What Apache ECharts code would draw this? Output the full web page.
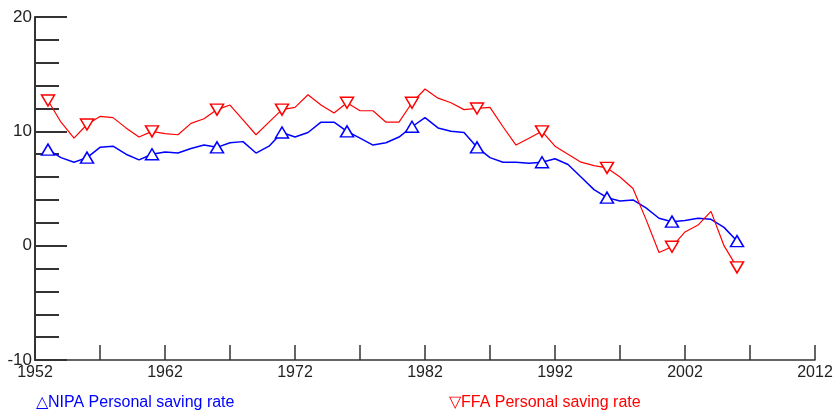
<!DOCTYPE html>
<html>
<head>
<meta charset="utf-8">
<script src="https://cdn.jsdelivr.net/npm/echarts@6/dist/echarts.min.js"></script>
<style>html,body{margin:0;padding:0;background:#fff}#c{width:837px;height:410px}</style>
</head>
<body>
<div id="c"></div>
<script>
const years = [1953,1954,1955,1956,1957,1958,1959,1960,1961,1962,1963,1964,1965,1966,1967,1968,1969,1970,1971,1972,1973,1974,1975,1976,1977,1978,1979,1980,1981,1982,1983,1984,1985,1986,1987,1988,1989,1990,1991,1992,1993,1994,1995,1996,1997,1998,1999,2000,2001,2002,2003,2004,2005,2006];
const nipa = [8.4,7.7,7.3,7.7,8.6,8.7,8.0,7.5,8.0,8.2,8.1,8.5,8.8,8.6,9.0,9.1,8.1,8.7,9.9,9.5,9.9,10.8,10.8,10.0,9.4,8.8,9.0,9.5,10.4,11.2,10.3,10.0,9.9,8.6,7.7,7.3,7.3,7.2,7.3,7.6,7.1,6.0,4.9,4.2,3.9,4.0,3.3,2.4,2.1,2.2,2.4,2.3,1.6,0.4];
const ffa = [12.7,10.8,9.4,10.6,11.3,11.2,10.3,9.5,10.0,9.8,9.7,10.7,11.1,11.9,12.3,11.0,9.7,10.8,11.9,12.1,13.2,12.3,11.6,12.5,11.8,11.8,10.8,10.8,12.5,13.7,12.9,12.5,11.9,12.0,12.1,10.4,8.8,9.4,10.0,8.7,8.0,7.3,7.0,6.8,6.0,5.0,2.3,-0.6,-0.1,1.2,1.8,3.0,0.0,-1.9];
const markerYears = [1953,1956,1961,1966,1971,1976,1981,1986,1991,1996,2001,2006];
const xTicks = [1952,1962,1972,1982,1992,2002,2012];
const yTicks = [-10,0,10,20];
const seriesNames = ['NIPA Personal saving rate','FFA Personal saving rate'];

function build(vals){
  return years.map((y,i)=>({value:[y,vals[i]], symbol: markerYears.indexOf(y)>=0 ? 'triangle' : 'none'}));
}
const axisColor = '#333';
const chart = echarts.init(document.getElementById('c'));
chart.setOption({
  animation:false,
  grid:{left:35,right:22,top:17,bottom:50},
  xAxis:{type:'value',min:1952,max:2012,interval:5,
    axisLine:{onZero:false,lineStyle:{color:axisColor,width:1.5}},
    axisTick:{inside:true,length:15,lineStyle:{color:axisColor,width:1.5}},
    splitLine:{show:false},
    axisLabel:{fontFamily:'Liberation Sans, Arial',fontSize:16,color:'#222',margin:5,
      formatter:v=>xTicks.indexOf(v)>=0?String(v):''}},
  yAxis:{type:'value',min:-10,max:20,interval:10,
    axisLine:{show:true,lineStyle:{color:axisColor,width:2}},
    axisTick:{show:true,inside:true,length:32,lineStyle:{color:axisColor,width:2}},
    minorTick:{show:true,splitNumber:5,length:24,lineStyle:{color:axisColor,width:2}},
    splitLine:{show:false},
    axisLabel:{fontFamily:'Liberation Sans, Arial',fontSize:17,color:'#222',margin:3,
      formatter:v=>yTicks.indexOf(v)>=0?String(v):''}},
  legend:[
    {data:[{name:seriesNames[0],textStyle:{color:'#0000ff'}}],left:26,top:390,icon:'none',itemWidth:0,itemHeight:16,
      formatter:n=>'\u25B3'+n,textStyle:{fontFamily:'Liberation Sans, Arial',fontSize:16,padding:0}},
    {data:[{name:seriesNames[1],textStyle:{color:'#ff0000'}}],left:439,top:390,icon:'none',itemWidth:0,itemHeight:16,
      formatter:n=>'\u25BD'+n,textStyle:{fontFamily:'Liberation Sans, Arial',fontSize:16,padding:0}}
  ],
  series:[
    {name:seriesNames[0],type:'line',data:build(nipa),symbolSize:[13,11],
      lineStyle:{color:'#0000ff',width:1.5},itemStyle:{color:'#fff',borderColor:'#0000ff',borderWidth:1.5}},
    {name:seriesNames[1],type:'line',data:build(ffa),symbolSize:[13,11],symbolRotate:180,
      lineStyle:{color:'#ff0000',width:1.2},itemStyle:{color:'#fff',borderColor:'#ff0000',borderWidth:1.5}}
  ]
});
</script>
</body>
</html>
